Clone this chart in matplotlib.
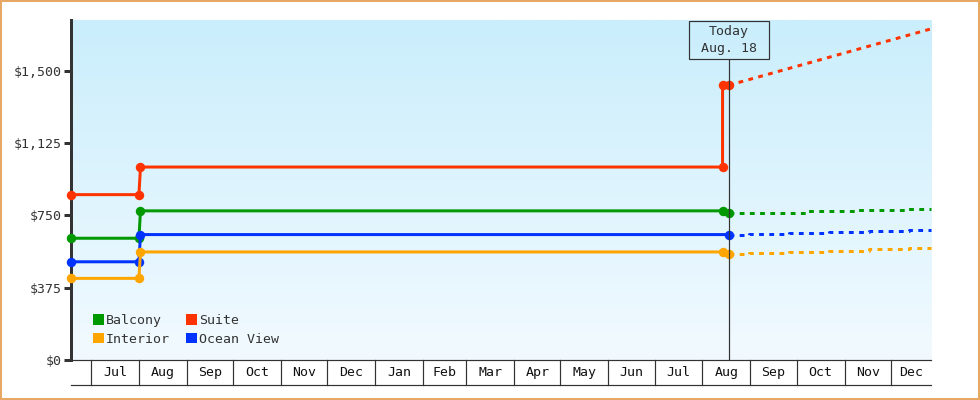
import numpy as np
import pandas as pd
import matplotlib
matplotlib.use('Agg')
import matplotlib.pyplot as plt
import matplotlib.dates as mdates
from matplotlib.patches import Patch, Rectangle
from matplotlib.ticker import FuncFormatter
from matplotlib.transforms import blended_transform_factory

# ---- data ----
x_start = '2022-06-18'
x_end = '2023-12-27'
today = '2023-08-18'
today_label = 'Today\n Aug. 18 '

series_names = ['Balcony', 'Interior', 'Suite', 'Ocean View']
series_colors = ['#009900', '#ffa500', '#ff3300', '#0033ff']

balcony_dates = ['2022-06-18', '2022-08-01', '2022-08-02', '2023-08-14', '2023-08-18']
balcony_vals = [631, 631, 773, 773, 764]
interior_dates = ['2022-06-18', '2022-08-01', '2022-08-02', '2023-08-14', '2023-08-18']
interior_vals = [423, 423, 560, 560, 550]
suite_dates = ['2022-06-18', '2022-08-01', '2022-08-02', '2023-08-14', '2023-08-14', '2023-08-18']
suite_vals = [857, 857, 1000, 1000, 1424, 1424]
ocean_dates = ['2022-06-18', '2022-08-01', '2022-08-02', '2023-08-18']
ocean_vals = [509, 509, 650, 650]

# forecast after today
balcony_fc_dates = ['2023-08-18', '2023-10-08', '2023-11-09', '2023-12-12', '2023-12-27']
balcony_fc_vals = [764, 774, 779, 785, 785]
interior_fc_dates = ['2023-08-18', '2023-08-31', '2023-09-26', '2023-10-22', '2023-11-17', '2023-12-13', '2023-12-27']
interior_fc_vals = [550, 555, 561, 567, 573, 578, 578]
suite_fc_dates = ['2023-08-18', '2023-12-27']
suite_fc_vals = [1424, 1716]
ocean_fc_dates = ['2023-08-18', '2023-08-31', '2023-09-26', '2023-10-22', '2023-11-17', '2023-12-13', '2023-12-27']
ocean_fc_vals = [650, 654, 659, 664, 671, 676, 676]

y_ticks = [0, 375, 750, 1125, 1500]
y_max = 1762

# ---- style ----
FONT = 'DejaVu Sans Mono'
FS = 9.5
DARK = '#333333'
PX = 0.72  # one pixel in points at dpi 100

plt.rcParams['font.family'] = [FONT, 'DejaVu Sans']

fig = plt.figure(figsize=(9.8, 4.0), dpi=100)
ax = fig.add_axes([71 / 980, 40 / 400, 860 / 980, 340 / 400])


def d(s):
    return mdates.date2num(pd.Timestamp(s))


x0, x1 = d(x_start), d(x_end)
ax.set_xlim(x0, x1)
ax.set_ylim(0, y_max)

# gradient background
grad = np.linspace(0, 1, 256).reshape(-1, 1)
top = np.array([202, 238, 252]) / 255
bot = np.array([242, 250, 255]) / 255
img = top[None, None, :] * (1 - grad[:, :, None]) + bot[None, None, :] * grad[:, :, None]
ax.imshow(img, extent=[0, 1, 0, 1], transform=ax.transAxes, aspect='auto', zorder=0)

hist = [
    (balcony_dates, balcony_vals),
    (interior_dates, interior_vals),
    (suite_dates, suite_vals),
    (ocean_dates, ocean_vals),
]
fcst = [
    (balcony_fc_dates, balcony_fc_vals, 'steps-post'),
    (interior_fc_dates, interior_fc_vals, 'steps-post'),
    (suite_fc_dates, suite_fc_vals, 'default'),
    (ocean_fc_dates, ocean_fc_vals, 'steps-post'),
]

# draw order: suite, balcony, ocean, interior (interior on top)
for i in [2, 0, 3, 1]:
    c = series_colors[i]
    fd, fv, ds = fcst[i]
    ax.plot([d(s) for s in fd], fv, color=c, lw=3 * PX, dashes=(1.6, 1.8),
            drawstyle=ds, zorder=3, clip_on=False, solid_capstyle='butt')
    hd, hv = hist[i]
    ax.plot([d(s) for s in hd], hv, color=c, lw=3 * PX, marker='o', ms=6.8,
            mew=0, zorder=4, clip_on=False)

# axes look
for s in ['top', 'right']:
    ax.spines[s].set_visible(False)
ax.spines['left'].set_linewidth(3 * PX)
ax.spines['left'].set_color(DARK)
ax.spines['bottom'].set_linewidth(1.2 * PX)
ax.spines['bottom'].set_color(DARK)
ax.set_yticks(y_ticks)
ax.yaxis.set_major_formatter(FuncFormatter(lambda v, p: '${:,.0f}'.format(v)))
ax.tick_params(axis='y', length=5, width=3 * PX, color=DARK, labelcolor=DARK,
               labelsize=FS, pad=2)
ax.set_xticks([])

# month band under the plot
band_h = 25 / 340
tr = blended_transform_factory(ax.transData, ax.transAxes)
month_starts = pd.date_range('2022-07-01', x_end, freq='MS')
for k, ms in enumerate(month_starts):
    xs = d(ms)
    ax.plot([xs, xs], [0, -band_h], transform=tr, color=DARK, lw=1.2 * PX, clip_on=False)
    xe = d(month_starts[k + 1]) if k + 1 < len(month_starts) else x1
    ax.text((xs + xe) / 2, -band_h / 2, ms.strftime('%b'), transform=tr, ha='center',
            va='center', fontsize=FS, color='#111111', family=FONT)
ax.plot([0, 1], [-band_h, -band_h], transform=ax.transAxes, color=DARK, lw=1.2 * PX,
        clip_on=False)

# today marker
xt = d(today)
ax.plot([xt, xt], [0, 300 / 340], transform=tr, color=DARK, lw=1.2 * PX, zorder=5)
ax.text(xt, 320 / 340, today_label, transform=tr, ha='center', va='center',
        fontsize=FS, color=DARK, linespacing=1.35, multialignment='center', zorder=6,
        bbox=dict(boxstyle='square,pad=0.3', fc='none', ec=DARK, lw=1.2 * PX))

# legend
handles = [Patch(facecolor=c, edgecolor='none') for c in series_colors]
leg = ax.legend(handles, series_names, ncol=2, loc='lower left',
                bbox_to_anchor=(22 / 860, 14 / 340), frameon=False, borderpad=0,
                borderaxespad=0, handlelength=0.8, handleheight=0.8,
                handletextpad=0.2, columnspacing=1.2, labelspacing=0.45,
                prop={'family': FONT, 'size': FS})
for t in leg.get_texts():
    t.set_color(DARK)

# outer border
fig.patches.append(Rectangle((1 / 980, 1 / 400), 978 / 980, 398 / 400,
                             transform=fig.transFigure, fill=False,
                             edgecolor='#e6a862', lw=2 * PX, zorder=10))

fig.savefig('out.png', dpi=100, facecolor='white')
